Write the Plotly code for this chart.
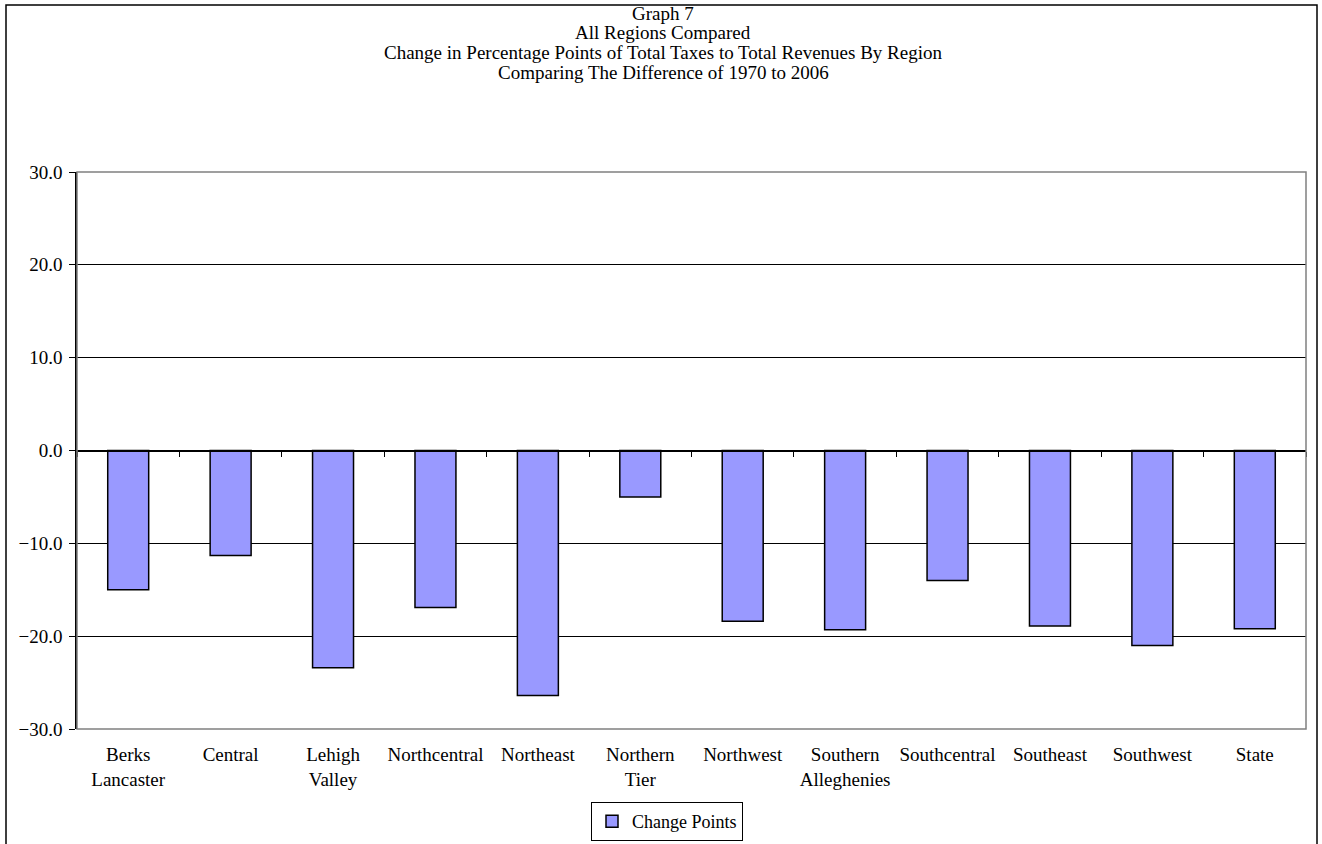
import plotly.graph_objects as go

regions = [
    "Berks<br>Lancaster", "Central", "Lehigh<br>Valley", "Northcentral",
    "Northeast", "Northern<br>Tier", "Northwest", "Southern<br>Alleghenies",
    "Southcentral", "Southeast", "Southwest", "State",
]
change_points = [-15.0, -11.3, -23.4, -16.9, -26.4, -5.0, -18.4, -19.3, -14.0, -18.9, -21.0, -19.2]
y_ticks = [-30, -20, -10, 0, 10, 20, 30]

title_lines = [
    "Graph 7",
    "All Regions Compared",
    "Change in Percentage Points of Total Taxes to Total Revenues By Region",
    "Comparing The Difference of 1970 to 2006",
]

FONT = "Liberation Serif"
FS = 19
W, H = 1322, 844
L, R, T, B = 77, 16, 172, 115
plot_w = W - L - R
plot_h = H - T - B


def px_to_paper_x(px):
    return (px - L) / plot_w


def px_to_paper_y(py):
    return (H - B - py) / plot_h


fig = go.Figure()
fig.add_trace(go.Bar(
    x=regions, y=change_points, name="Change Points",
    width=0.4,
    marker=dict(color="#9999FF", line=dict(color="black", width=1.5)),
    xaxis="x", yaxis="y",
))
# invisible companion trace that carries the tick marks along the zero line
fig.add_trace(go.Scatter(
    x=regions, y=[0] * len(regions), mode="markers",
    marker=dict(opacity=0), showlegend=False, hoverinfo="skip",
    xaxis="x2", yaxis="y",
))

# title block: one annotation per line, Excel-like tight spacing
title_annotations = [
    dict(text=line, showarrow=False, xref="paper", yref="paper",
         x=px_to_paper_x(W / 2 + 2), y=px_to_paper_y(13 + 19.7 * i),
         xanchor="center", yanchor="middle",
         font=dict(family=FONT, size=FS, color="black"))
    for i, line in enumerate(title_lines)
]

fig.update_layout(
    width=W, height=H,
    margin=dict(l=L, r=R, t=T, b=B, autoexpand=False),
    paper_bgcolor="white", plot_bgcolor="white",
    font=dict(family=FONT, size=FS, color="black"),
    bargap=0.6,
    showlegend=True,
    legend=dict(
        orientation="h",
        x=667 / W, xanchor="center", xref="container",
        y=(H - 841) / H, yanchor="bottom", yref="container",
        bordercolor="black", borderwidth=1,
        font=dict(family=FONT, size=FS - 1, color="black"),
        itemwidth=30, tracegroupgap=0,
    ),
    xaxis=dict(
        type="category", categoryorder="array", categoryarray=regions,
        range=[-0.5, len(regions) - 0.5],
        showgrid=False, showline=False, zeroline=False,
        ticks="", ticklabelstandoff=12,
        tickfont=dict(family=FONT, size=FS, color="black"),
    ),
    xaxis2=dict(
        type="category", categoryorder="array", categoryarray=regions,
        range=[-0.5, len(regions) - 0.5],
        overlaying="x", anchor="free", position=0.5,
        showline=True, linecolor="black", linewidth=1,
        ticks="outside", tickson="boundaries", ticklen=5, tickcolor="black",
        showticklabels=False, showgrid=False, zeroline=False,
    ),
    yaxis=dict(
        range=[-30, 30], tickvals=y_ticks, tickformat=".1f",
        showgrid=True, gridcolor="black", gridwidth=1,
        zeroline=True, zerolinecolor="black", zerolinewidth=1,
        showline=True, linecolor="black", linewidth=1.5,
        ticks="outside", ticklen=6, tickcolor="black",
        ticklabelstandoff=3,
        tickfont=dict(family=FONT, size=FS, color="black"),
    ),
    annotations=title_annotations,
    shapes=[
        # grey frame of the plotting area
        dict(type="rect", xref="paper", yref="paper", x0=0, y0=0, x1=1, y1=1,
             line=dict(color="#808080", width=1.5), layer="above"),
        # black frame of the whole chart
        dict(type="rect", xref="paper", yref="paper",
             x0=px_to_paper_x(6), x1=px_to_paper_x(1317),
             y0=px_to_paper_y(848), y1=px_to_paper_y(5),
             line=dict(color="black", width=1.5), layer="above"),
    ],
)

fig.write_html("out.html")
